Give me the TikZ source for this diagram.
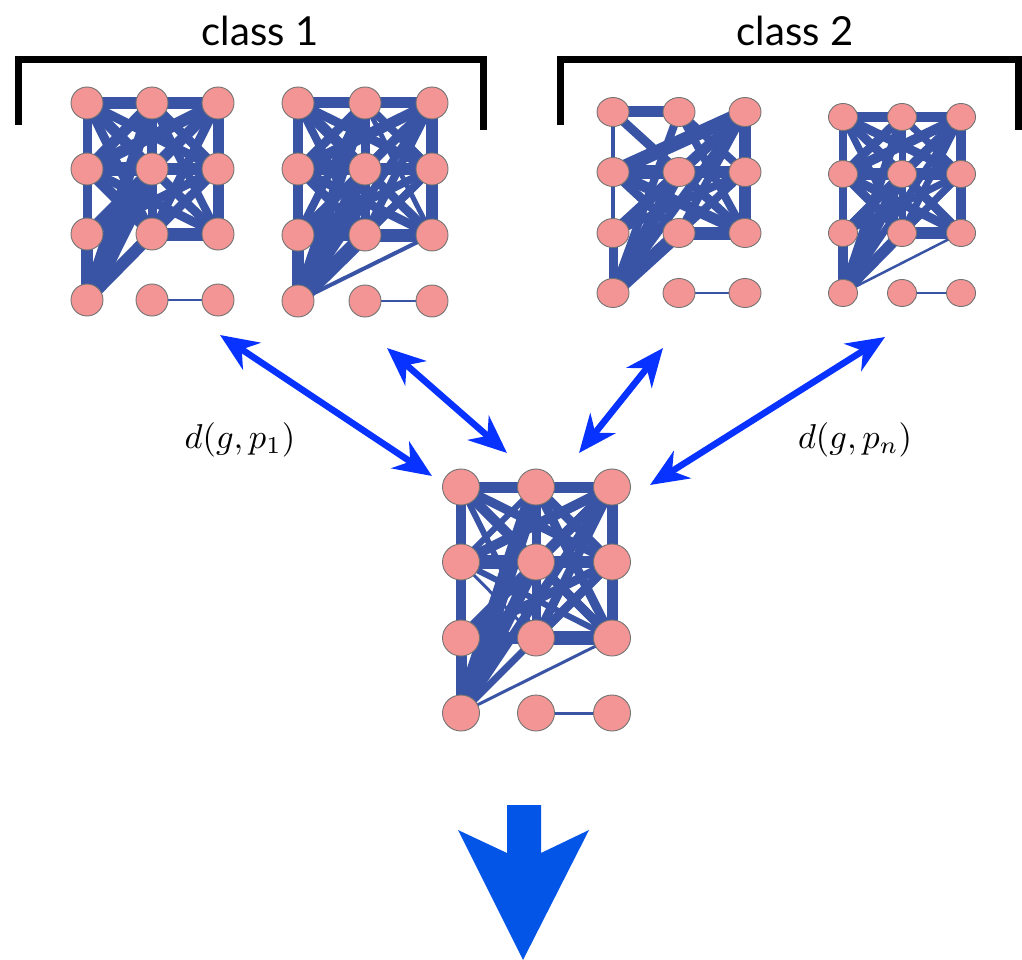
\documentclass[tikz,border=0pt]{standalone}
\usepackage{fontspec}
\newfontfamily\labfont{Lato}
\usetikzlibrary{arrows.meta,shapes.geometric,backgrounds}
\definecolor{edgeblue}{RGB}{57,84,165}
\definecolor{vfill}{RGB}{244,149,149}
\definecolor{vline}{RGB}{115,115,115}
\definecolor{arrblue}{RGB}{8,50,255}
\definecolor{bigblue}{RGB}{2,85,230}
\tikzset{
 vert/.style={ellipse, fill=vfill, draw=vline, line width=0.9pt, inner sep=0pt},
 gedge/.style={draw=edgeblue},
 dist/.style={draw=arrblue, line width=6.5pt, {Stealth[length=38pt,width=32pt,inset=12pt]}-{Stealth[length=38pt,width=32pt,inset=12pt]}},
 bracket/.style={draw=black, line width=7pt, line join=miter},
 classlab/.style={font=\labfont\fontsize{40}{44}\selectfont, anchor=base},
 distlab/.style={scale=3.45},
}
\newcommand\mygraph[6]{%
 \foreach \c/\x in {#2}{\foreach \r/\y in {#3}{%
   \node[vert, minimum width=#4pt, minimum height=#5pt] (#1\c\r) at (\x,\y) {};}}
 \begin{pgfonlayer}{background}
 \foreach \a/\b/\w in {#6}{\draw[gedge, line width=\w pt] (#1\a.center) -- (#1\b.center);}
 \end{pgfonlayer}
}
\begin{document}
\begin{tikzpicture}[x=1pt,y=-1pt]
\useasboundingbox (0,0) rectangle (1022,960);
% brackets and class labels
\draw[bracket] (18.5,125) -- (18.5,59.5) -- (483,59.5) -- (483,130);
\draw[bracket] (560,125) -- (560,59.5) -- (1018.5,59.5) -- (1018.5,130);
\node[classlab] (c1) at (260,46) {class 1};
\node[classlab] (c2) at (795,46) {class 2};
% graph A
\mygraph{A}{0/87,1/152,2/218}{0/103,1/169,2/234,3/300}{32}{32}{
 00/10/12, 10/20/12, 00/01/9, 01/02/9, 02/03/12, 20/21/11, 21/22/11, 12/22/13,
 01/11/14, 11/21/12, 10/11/10, 11/12/9,
 00/11/11, 00/21/9, 00/12/9, 00/22/8, 10/01/11, 10/21/9, 10/22/8,
 20/01/12, 20/11/10, 20/02/11, 20/12/9, 01/12/11, 01/22/9, 02/11/10, 02/21/9,
 21/12/9, 11/22/9, 03/11/18, 03/10/12, 03/12/12, 03/21/7, 13/23/2}
% graph B
\mygraph{B}{0/298,1/365,2/432}{0/103,1/169,2/235,3/301}{32}{32}{
 00/10/11, 10/20/11, 00/01/10, 01/02/10, 02/03/12, 20/21/12, 21/22/12, 12/22/13, 02/12/11,
 01/11/13, 11/21/12, 10/11/9, 11/12/9,
 00/11/11, 00/21/9, 00/12/8, 00/22/8, 10/01/9, 10/21/8, 10/22/5, 10/02/8,
 20/01/11, 20/11/9, 20/02/9, 20/12/8, 01/12/9, 01/22/9, 02/11/9, 02/21/8,
 21/12/8, 11/22/9, 03/11/15, 03/10/12, 03/12/15, 03/20/8, 03/21/8, 03/22/4, 13/23/2}
% graph C
\mygraph{C}{0/613,1/679,2/745}{0/112,1/172,2/233,3/293}{32}{29}{
 00/10/11, 00/01/4, 01/02/4, 02/03/9, 20/21/12, 21/22/12, 12/22/13,
 01/11/14, 11/21/12, 00/11/9, 01/20/14, 02/20/11, 01/22/11, 01/12/9,
 02/11/9, 02/21/8, 03/20/9, 03/11/13, 03/12/14, 03/10/8, 03/21/8,
 11/22/9, 20/12/8, 10/21/8, 10/22/8, 13/23/2}
% graph D
\mygraph{D}{0/843,1/902,2/961}{0/117,1/174,2/233,3/293}{29}{27}{
 00/10/10, 10/20/10, 00/01/8, 01/02/8, 02/03/10, 20/21/10, 21/22/10, 12/22/12,
 01/11/12, 11/21/12, 00/11/9, 00/21/9, 00/12/7, 00/22/7, 10/01/9, 10/21/7,
 10/12/7, 20/01/10, 20/11/9, 20/02/9, 20/12/7, 01/12/9, 01/22/9, 02/11/9,
 02/21/7, 11/22/9, 21/12/7, 03/10/9, 03/11/12, 03/12/11, 03/20/7, 03/21/7,
 03/22/2.5, 13/23/2}
% graph E (centre)
\mygraph{E}{0/461,1/536,2/612}{0/487,1/562,2/638,3/713}{37}{36}{
 00/10/11, 10/20/11, 00/01/10, 01/02/10, 02/03/11, 20/21/11, 21/22/11, 02/12/12, 12/22/14,
 01/11/14, 11/21/12, 10/11/9, 11/12/9, 00/11/10, 00/21/9, 00/22/9, 00/12/6,
 10/01/6, 10/21/9, 10/22/9, 20/01/10, 20/11/10, 20/02/10, 20/12/9, 01/12/3,
 01/22/6, 02/21/9, 11/22/9, 21/12/9, 03/10/17, 03/11/13, 03/20/9, 03/12/7,
 03/21/3, 03/22/3, 13/23/3}
% distance arrows
\coordinate (a1s) at (220,335); \coordinate (a1e) at (432,476);
\coordinate (a2s) at (387,348); \coordinate (a2e) at (507,453);
\coordinate (a3s) at (663,348); \coordinate (a3e) at (579,453);
\coordinate (a4s) at (885,337); \coordinate (a4e) at (650,485);
\draw[dist] (a1s) -- (a1e);
\draw[dist] (a2s) -- (a2e);
\draw[dist] (a3s) -- (a3e);
\draw[dist] (a4s) -- (a4e);
\node[distlab] (l1) at (240,440) {$d(g,p_1)$};
\node[distlab] (ln) at (855,440) {$d(g,p_n)$};
% big arrow
\fill[bigblue] (507,805) -- (541,805) -- (541,853) -- (589,830) -- (523,960)
  -- (458,830) -- (507,853) -- cycle;
\end{tikzpicture}
\end{document}
